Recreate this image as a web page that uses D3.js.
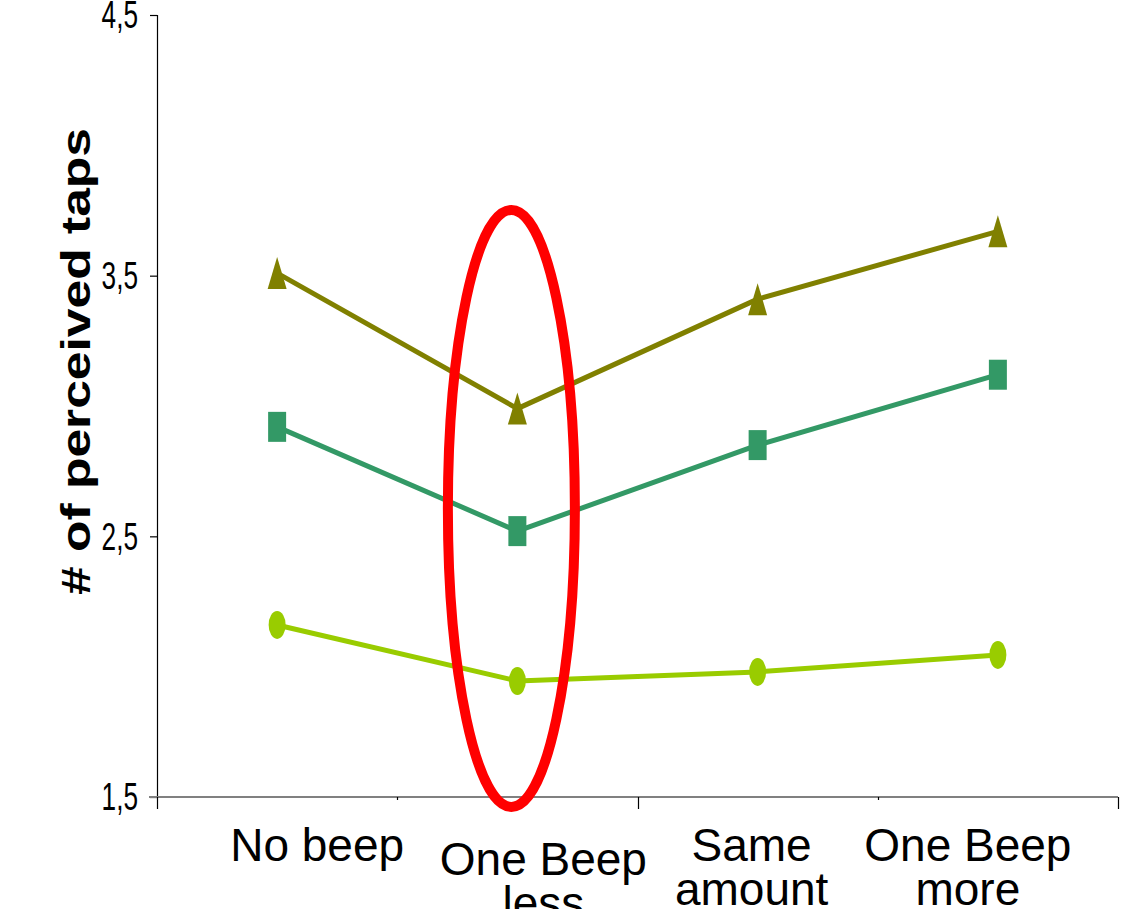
<!DOCTYPE html>
<html>
<head>
<meta charset="utf-8">
<script src="https://cdn.jsdelivr.net/npm/d3@7"></script>
<style>
  html, body { margin: 0; padding: 0; background: #ffffff; }
  svg { display: block; }
</style>
</head>
<body>
<svg id="chart" width="1140" height="909"></svg>
<script>
// Conditions along the x axis (each may break over two lines)
const categories = ["No beep", "One Beep less", "Same amount", "One Beep more"];
const categoryLines = [["No beep"], ["One Beep", "less"], ["Same", "amount"], ["One Beep", "more"]];

// Mean number of perceived taps per condition, one array per series
const triangleSeries = [3.51, 2.99, 3.41, 3.67];
const squareSeries   = [2.92, 2.52, 2.85, 3.12];
const circleSeries   = [2.16, 1.945, 1.98, 2.045];

// Y axis ticks and labels
const yTicks = [1.5, 2.5, 3.5, 4.5];
const yTickLabels = ["1,5", "2,5", "3,5", "4,5"];

// Highlighted condition and the value span the ring covers
const highlightCategory = "One Beep less";
const highlightSpan = [1.462, 3.752];

const yTitle = "# of perceived taps";

// ---- layout ----
const svg = d3.select("#chart");
const plot = { left: 157, right: 1118, top: 15, bottom: 797 };

const x = d3.scaleBand().domain(categories).range([plot.left, plot.right]).paddingInner(0).paddingOuter(0);
const cx = c => x(c) + x.bandwidth() / 2;
const y = d3.scaleLinear().domain([1.5, 4.5]).range([plot.bottom, plot.top]);

const series = [
  { values: triangleSeries, color: "#808000", marker: "triangle" },
  { values: squareSeries,   color: "#339966", marker: "square" },
  { values: circleSeries,   color: "#99CC00", marker: "ellipse" }
];

// Label placement tweaks per category (horizontal shift, extra drop)
const labelShift = [40, 26, -6, -30];
const labelDrop = [0, 14, 0, 0];

// ---- y axis ----
const yAxis = d3.axisLeft(y).tickValues(yTicks).tickSize(7).tickFormat("");
const gy = svg.append("g").attr("transform", `translate(${plot.left},0)`).call(yAxis);
gy.select(".domain").attr("stroke", "#000").attr("stroke-width", 1.2)
  .attr("d", `M0.5,${plot.top}V${plot.bottom}`);
gy.selectAll(".tick line").attr("stroke", "#000").attr("stroke-width", 1.2);

svg.append("g").selectAll("text")
  .data(yTicks)
  .join("text")
  .attr("transform", d => `translate(138,${y(d)}) scale(0.69,1)`)
  .attr("dy", "0.35em")
  .attr("text-anchor", "end")
  .attr("font-family", "'Liberation Sans Narrow', 'Arial Narrow', 'Liberation Sans', Arial, sans-serif")
  .attr("font-size", 38)
  .attr("fill", "#000")
  .text((d, i) => yTickLabels[i]);

// ---- x axis ----
const bounds = categories.map(c => x(c)).concat([plot.right]);
svg.append("line")
  .attr("x1", plot.left - 8).attr("x2", plot.right)
  .attr("y1", plot.bottom).attr("y2", plot.bottom)
  .attr("stroke", "#808080").attr("stroke-width", 2);
svg.append("g").selectAll("line")
  .data(bounds)
  .join("line")
  .attr("x1", d => Math.round(d) + 0.5).attr("x2", d => Math.round(d) + 0.5)
  .attr("y1", plot.bottom)
  .attr("y2", (d, i) => plot.bottom + (i % 2 === 0 ? 12 : 3))
  .attr("stroke", "#000").attr("stroke-width", 1.2);

// category labels
const labels = svg.append("g")
  .attr("font-family", "'Liberation Sans', Arial, sans-serif")
  .attr("font-size", 46)
  .attr("fill", "#000")
  .attr("text-anchor", "middle");
categories.forEach((c, i) => {
  const t = labels.append("text")
    .attr("x", cx(c) + labelShift[i])
    .attr("y", plot.bottom + 64 + labelDrop[i]);
  categoryLines[i].forEach((line, j) => {
    t.append("tspan")
      .attr("x", cx(c) + labelShift[i])
      .attr("dy", j === 0 ? 0 : 44)
      .text(line);
  });
});

// ---- y title ----
svg.append("text")
  .attr("transform", `translate(90,${(plot.top + plot.bottom) / 2 - 44.5}) rotate(-90)`)
  .attr("text-anchor", "middle")
  .attr("font-family", "'Liberation Sans', Arial, sans-serif")
  .attr("font-weight", "bold")
  .attr("font-size", 40)
  .attr("textLength", 467)
  .attr("lengthAdjust", "spacingAndGlyphs")
  .attr("fill", "#000")
  .text(yTitle);

// ---- series lines and markers ----
const line = d3.line().x((d, i) => cx(categories[i])).y(d => y(d));

const markerPath = {
  triangle: "M0,-16L9.5,16L-9.5,16Z",
  square: "M-9,-15H9V15H-9Z",
  ellipse: null
};

series.forEach(s => {
  svg.append("path")
    .datum(s.values)
    .attr("d", line)
    .attr("fill", "none")
    .attr("stroke", s.color)
    .attr("stroke-width", 5)
    .attr("stroke-linejoin", "round");

  const g = svg.append("g");
  const pts = g.selectAll("g").data(s.values).join("g")
    .attr("transform", (d, i) => `translate(${cx(categories[i])},${y(d)})`);
  if (s.marker === "ellipse") {
    pts.append("ellipse").attr("rx", 8.5).attr("ry", 14).attr("fill", s.color);
  } else {
    pts.append("path").attr("d", markerPath[s.marker]).attr("fill", s.color);
  }
});

// ---- highlight ring around one condition ----
const ringTop = y(highlightSpan[1]);
const ringBottom = y(highlightSpan[0]);
svg.append("ellipse")
  .attr("cx", cx(highlightCategory) - 6)
  .attr("cy", (ringTop + ringBottom) / 2)
  .attr("rx", 63.5)
  .attr("ry", (ringBottom - ringTop) / 2)
  .attr("fill", "none")
  .attr("stroke", "#FF0000")
  .attr("stroke-width", 10);
</script>
</body>
</html>
